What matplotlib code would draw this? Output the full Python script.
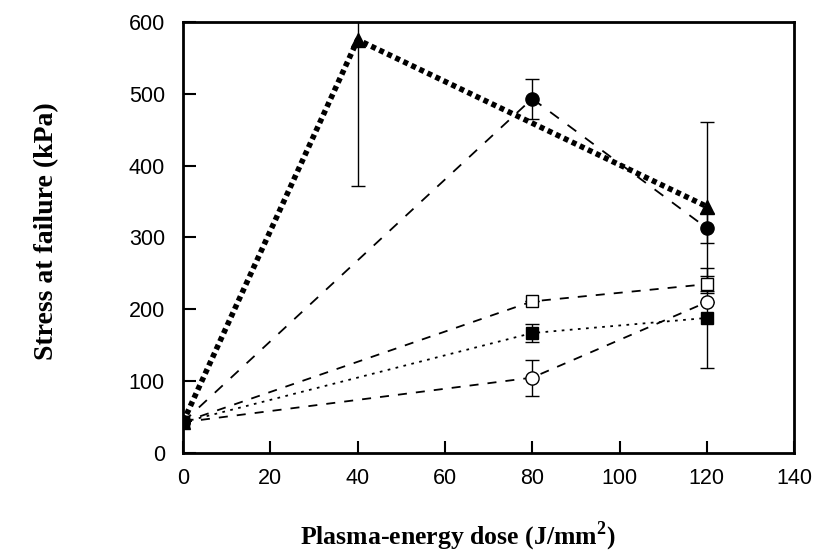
import numpy as np
import matplotlib
matplotlib.use("Agg")
from matplotlib import pyplot as plt

# dose (J/mm^2)
dose_tri = [0, 40, 120]
dose = [0, 80, 120]

# stress at failure (kPa)
tri = [43, 575, 343]
tri_err = [0, 203, 118]
circ_fill = [43, 493, 313]
circ_fill_err = [0, 28, 21]
sq_open = [43, 211, 235]
sq_open_err = [0, 0, 12]
sq_fill = [43, 167, 188]
sq_fill_err = [0, 13, 70]
circ_open = [43, 105, 210]
circ_open_err = [0, 25, 0]

plt.rcParams['font.family'] = ['Liberation Sans', 'DejaVu Sans']
plt.rcParams['mathtext.fontset'] = 'custom'
plt.rcParams['mathtext.rm'] = 'Liberation Serif'
plt.rcParams['mathtext.bf'] = 'Liberation Serif:bold'
fig = plt.figure(figsize=(8.17, 5.58), dpi=100)
ax = fig.add_axes([0.224, 0.188, 0.748, 0.773])

ebkw = dict(ecolor='black', elinewidth=1.0, capsize=5, capthick=1.0, color='black',
            markeredgecolor='black', clip_on=True)

ax.errorbar(dose, sq_open, yerr=sq_open_err, fmt='s', ls=(0, (5, 5)), lw=1.3,
            markerfacecolor='white', markersize=9, **ebkw)
ax.errorbar(dose, circ_open, yerr=circ_open_err, fmt='o', ls=(0, (5, 5)), lw=1.3,
            markerfacecolor='white', markersize=9.5, **ebkw)
ax.errorbar(dose, sq_fill, yerr=sq_fill_err, fmt='s', ls=(0, (1.5, 3)), lw=1.3,
            markerfacecolor='black', markersize=9, **ebkw)
ax.errorbar(dose, circ_fill, yerr=circ_fill_err, fmt='o', ls=(0, (6, 6)), lw=1.3,
            markerfacecolor='black', markersize=9.5, **ebkw)
ax.errorbar(dose_tri, tri, yerr=tri_err, fmt='^', ls=(0, (0.9, 0.7)), lw=4,
            markerfacecolor='black', markersize=9.5, **ebkw)

ax.set_xlim(0, 140)
ax.set_ylim(0, 600)
ax.set_xticks(np.arange(0, 141, 20))
ax.set_yticks(np.arange(0, 601, 100))
ax.tick_params(direction='in', length=9, width=1.5, labelsize=15.5)
ax.tick_params(axis='y', pad=13)
ax.tick_params(axis='x', pad=11)
for s in ax.spines.values():
    s.set_linewidth(2)

ax.set_xlabel('Plasma-energy dose (J/mm$^\\mathbf{2}$)', family='Liberation Serif',
              fontweight='bold', fontsize=18.5, labelpad=22)
ax.xaxis.label.set_x(0.45)
ax.set_ylabel('Stress at failure (kPa)', family='Liberation Serif',
              fontweight='bold', fontsize=20, labelpad=50)
ax.yaxis.label.set_y(0.515)

fig.savefig('out.png', dpi=100)
